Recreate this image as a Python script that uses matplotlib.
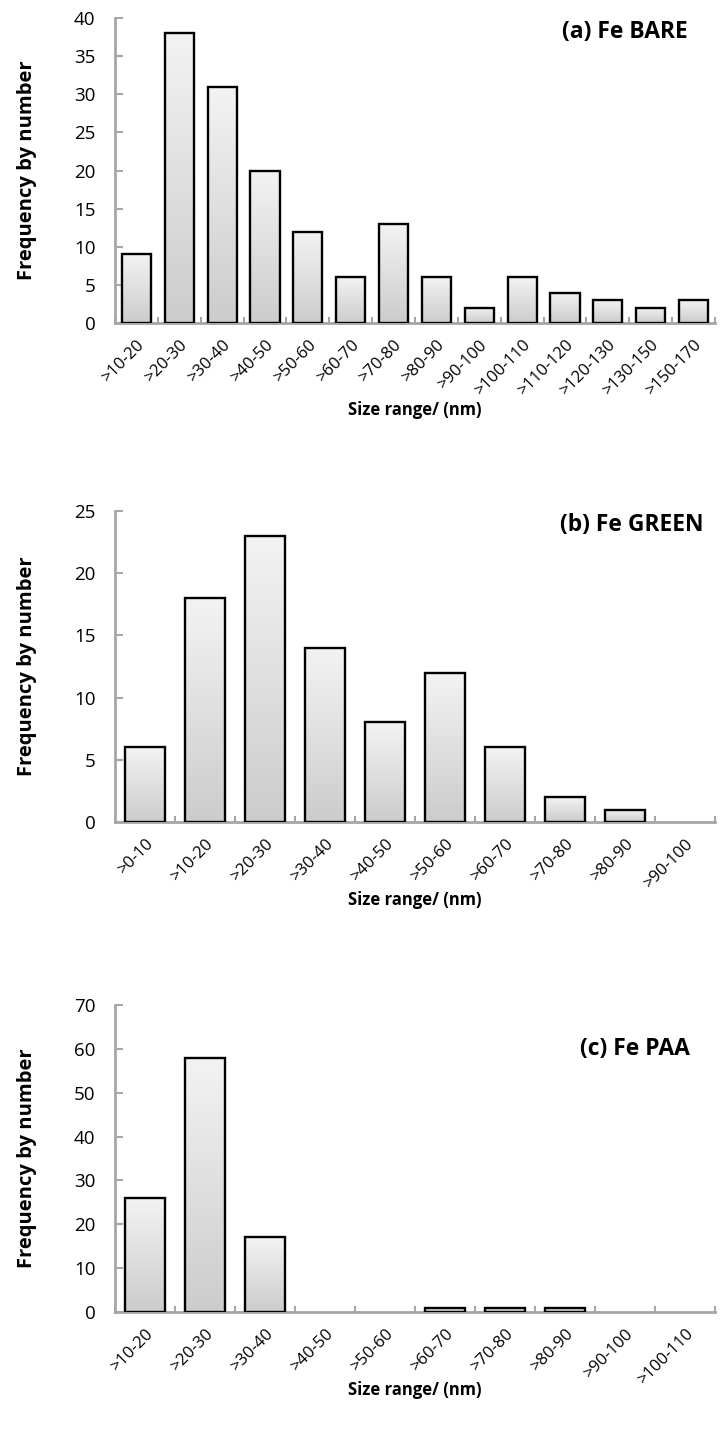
import numpy as np
import matplotlib
matplotlib.use("Agg")
import matplotlib.pyplot as plt
from matplotlib.colors import LinearSegmentedColormap

plt.rcParams['font.family'] = ['Open Sans', 'DejaVu Sans']

# data
cats_a = [">10-20", ">20-30", ">30-40", ">40-50", ">50-60", ">60-70", ">70-80",
          ">80-90", ">90-100", ">100-110", ">110-120", ">120-130", ">130-150", ">150-170"]
vals_a = [9, 38, 31, 20, 12, 6, 13, 6, 2, 6, 4, 3, 2, 3]

cats_b = [">0-10", ">10-20", ">20-30", ">30-40", ">40-50", ">50-60", ">60-70",
          ">70-80", ">80-90", ">90-100"]
vals_b = [6, 18, 23, 14, 8, 12, 6, 2, 1, 0]

cats_c = [">10-20", ">20-30", ">30-40", ">40-50", ">50-60", ">60-70", ">70-80",
          ">80-90", ">90-100", ">100-110"]
vals_c = [26, 58, 17, 0, 0, 1, 1, 1, 0, 0]

titles = ["(a) Fe BARE", "(b) Fe GREEN", "(c) Fe PAA"]
ymax = [40, 25, 70]
ystep = [5, 5, 10]

W, H = 721, 1432
fig = plt.figure(figsize=(W / 100, H / 100), dpi=100)

# axes boxes in pixels: (top, bottom)
boxes = [(18, 323), (511, 822), (1005, 1312)]
title_pos = [(0.955, 0.954), (0.98, 0.955), (0.958, 0.857)]
xlab_off = [87, 78, 78]

grad = np.linspace(0, 1, 256).reshape(-1, 1)
cmap = LinearSegmentedColormap.from_list('g', ['#cccccc', '#f3f3f3'])
gray = '#a6a6a6'

data = [(cats_a, vals_a), (cats_b, vals_b), (cats_c, vals_c)]
for i, (cats, vals) in enumerate(data):
    top, bot = boxes[i]
    ax = fig.add_axes([115 / W, (H - bot) / H, 600 / W, (bot - top) / H])
    n = len(cats)
    x = np.arange(n)
    bars = ax.bar(x, vals, width=0.68, facecolor='none', edgecolor='black',
                  linewidth=1.7, zorder=3)
    for r in bars:
        bx, by, bw, bh = r.get_x(), r.get_y(), r.get_width(), r.get_height()
        if bh <= 0:
            r.set_edgecolor('none')
            continue
        im = ax.imshow(grad, extent=[bx, bx + bw, by, by + bh], origin='lower',
                       cmap=cmap, aspect='auto', zorder=2)
        im.set_clip_path(r)
    ax.set_xlim(-0.5, n - 0.5)
    ax.set_ylim(0, ymax[i])
    ax.set_yticks(np.arange(0, ymax[i] + 1, ystep[i]))
    ax.set_xticks(x)
    ax.set_xticklabels(cats, rotation=45, ha='right', rotation_mode='anchor',
                       fontsize=12)
    ax.set_xticks(np.arange(n + 1) - 0.5, minor=True)
    ax.tick_params(axis='x', which='major', length=0, pad=10)
    ax.tick_params(axis='x', which='minor', direction='in', length=4,
                   color=gray, width=1.5)
    ax.tick_params(axis='y', direction='in', length=6, color=gray, width=1.5,
                   labelsize=13.5, pad=14)
    for s in ['top', 'right']:
        ax.spines[s].set_visible(False)
    for s in ['left', 'bottom']:
        ax.spines[s].set_color(gray)
        ax.spines[s].set_linewidth(2)
    ax.set_ylabel("Frequency by number", fontsize=14.5, fontweight='bold')
    ax.yaxis.set_label_coords(-0.13, 0.5)
    ax.text(0.5, -(xlab_off[i] / (bot - top)), "Size range/ (nm)",
            transform=ax.transAxes, ha='center', va='center', fontsize=12,
            fontweight='bold')
    tx, ty = title_pos[i]
    ax.text(tx, ty, titles[i], transform=ax.transAxes, ha='right', va='center',
            fontsize=16.5, fontweight='bold')

fig.savefig("out.png", dpi=100)
